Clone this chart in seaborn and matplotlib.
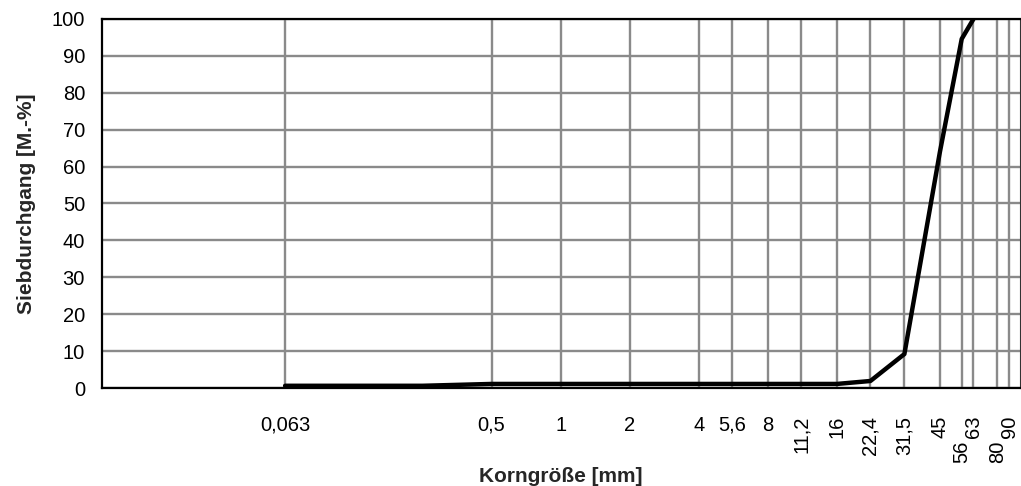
import matplotlib
matplotlib.use("Agg")
import matplotlib.pyplot as plt
import seaborn as sns
import pandas as pd

# sieve sizes [mm] and passing [M.-%]
sizes = [0.063, 0.125, 0.25, 0.5, 1, 2, 4, 5.6, 8, 11.2, 16, 22.4, 31.5, 45, 56, 63]
passing = [0.6, 0.6, 0.6, 1.1, 1.1, 1.1, 1.1, 1.1, 1.1, 1.1, 1.1, 1.9, 9.2, 64, 94.6, 100]

tick_values = [0.063, 0.5, 1, 2, 4, 5.6, 8, 11.2, 16, 22.4, 31.5, 45, 56, 63, 80, 90]
tick_labels = ["0,063", "0,5", "1", "2", "4", "5,6", "8", "11,2", "16", "22,4",
               "31,5", "45", "56", "63", "80", "90"]
rotated = ["11,2", "16", "22,4", "31,5", "45", "56", "63", "80", "90"]
staggered = ["56", "80"]

df = pd.DataFrame({"Korngröße": sizes, "Siebdurchgang": passing})

sns.set_style("white")
plt.rcParams["font.family"] = ["Liberation Sans", "DejaVu Sans"]

fig = plt.figure(figsize=(10.21, 4.86), dpi=100)
ax = fig.add_axes([101.7 / 1021, 1 - 388 / 486, (1019.5 - 101.7) / 1021, (388 - 19) / 486])

ax.set_xscale("log")
sns.lineplot(data=df, x="Korngröße", y="Siebdurchgang", ax=ax, color="black",
             linewidth=3.2, zorder=3)

ax.set_xlim(0.01, 100)
ax.set_ylim(0, 100)
ax.set_yticks(range(0, 101, 10))
ax.set_xticks(tick_values, tick_labels)
ax.minorticks_off()

ax.grid(True, color="#8a8a8a", linewidth=1.7)
ax.set_axisbelow(True)

ax.tick_params(axis="both", length=0, labelsize=14.5, colors="black")
ax.tick_params(axis="x", pad=20)
ax.tick_params(axis="y", pad=12)

for lab in ax.get_xticklabels():
    txt = lab.get_text()
    if txt in rotated:
        lab.set_rotation(90)
        lab.set_va("top")
    if txt in staggered:
        lab.set_y(-0.068)

for side in ["left", "top", "bottom"]:
    ax.spines[side].set_color("black")
    ax.spines[side].set_linewidth(1.6)
ax.spines["right"].set_color("#333333")
ax.spines["right"].set_linewidth(0.8)

ax.set_xlabel("Korngröße [mm]", fontsize=15, fontweight="bold", labelpad=3)
ax.set_ylabel("Siebdurchgang [M.-%]", fontsize=15, fontweight="bold", labelpad=11)

fig.savefig("out.png", dpi=100)
